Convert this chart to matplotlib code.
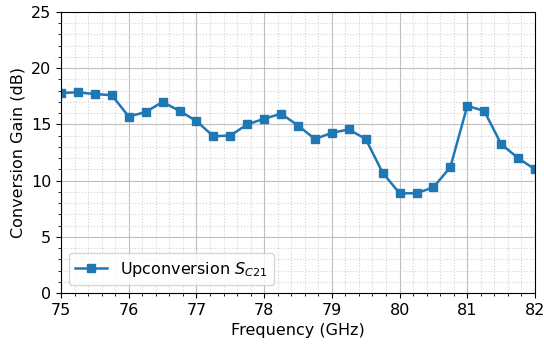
import matplotlib
matplotlib.use('Agg')
import matplotlib.pyplot as plt
import numpy as np
from matplotlib.ticker import MultipleLocator

freq_ghz = [75.0, 75.25, 75.5, 75.75, 76.0, 76.25, 76.5, 76.75, 77.0, 77.25,
            77.5, 77.75, 78.0, 78.25, 78.5, 78.75, 79.0, 79.25, 79.5, 79.75,
            80.0, 80.25, 80.5, 80.75, 81.0, 81.25, 81.5, 81.75, 82.0]
gain_db = [17.8, 17.85, 17.7, 17.6, 15.7, 16.1, 17.0, 16.2, 15.3, 13.95,
           14.0, 15.0, 15.5, 15.95, 14.9, 13.7, 14.25, 14.55, 13.7, 10.7,
           8.87, 8.87, 9.4, 11.2, 16.65, 16.2, 13.25, 12.0, 11.0]

fs = 11.5

fig = plt.figure(figsize=(5.44, 3.44), dpi=100)
ax = fig.add_axes([61/544, 1 - 293/344, 474/544, 281/344])

ax.plot(freq_ghz, gain_db, color='#1f77b4', marker='s', markersize=6,
        linewidth=1.8, label=r'Upconversion $S_{C21}$')

ax.set_xlim(75, 82)
ax.set_ylim(0, 25)
ax.xaxis.set_major_locator(MultipleLocator(1))
ax.xaxis.set_minor_locator(MultipleLocator(0.2))
ax.yaxis.set_major_locator(MultipleLocator(5))
ax.yaxis.set_minor_locator(MultipleLocator(1))

ax.grid(which='major', color='#b0b0b0', linewidth=0.8, alpha=0.8)
ax.grid(which='minor', color='#c8c8c8', linestyle=':', linewidth=0.8, alpha=0.8)
ax.tick_params(labelsize=fs)

ax.set_xlabel('Frequency (GHz)', fontsize=fs)
ax.set_ylabel('Conversion Gain (dB)', fontsize=fs)
ax.legend(loc='lower left', fontsize=fs)

fig.savefig('out.png', dpi=100)
